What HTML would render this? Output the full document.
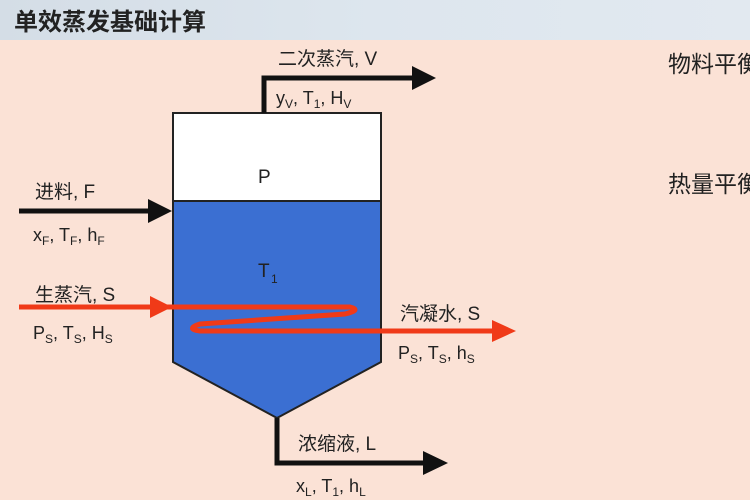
<!DOCTYPE html>
<html><head><meta charset="utf-8"><style>
html,body{margin:0;padding:0;width:750px;height:500px;overflow:hidden;background:#fbe2d6}
svg{display:block}
text{font-family:"Liberation Sans","Noto Sans CJK SC",sans-serif;fill:#222}
</style></head><body>
<svg width="750" height="500" viewBox="0 0 750 500">
<defs>
<linearGradient id="hd" x1="0" y1="0" x2="1" y2="0">
<stop offset="0" stop-color="#d4dde6"/><stop offset="0.5" stop-color="#dde6ee"/><stop offset="1" stop-color="#e2e9f0"/>
</linearGradient>
</defs>
<rect x="0" y="0" width="750" height="40" fill="url(#hd)"/>
<rect x="0" y="40" width="750" height="460" fill="#fbe2d6"/>
<text x="14" y="30" font-size="24" font-weight="bold" fill="#333">单效蒸发基础计算</text>
<text x="668" y="72" font-size="23" fill="#444">物料平衡</text>
<text x="668" y="192" font-size="23" fill="#444">热量平衡</text>

<rect x="173" y="113" width="208" height="88" fill="#fff" stroke="#222" stroke-width="2"/>
<polygon points="173,201 381,201 381,362 277,418 173,362" fill="#3b6fd2" stroke="#222" stroke-width="2"/>
<text x="258" y="183" font-size="19">P</text>
<text x="258" y="277" font-size="19">T</text><text x="271" y="283" font-size="12">1</text>

<polyline points="264,113 264,78 415,78" fill="none" stroke="#111" stroke-width="5"/>
<polygon points="412,66 436,78 412,90" fill="#111"/>
<text x="278" y="65" font-size="19" fill="#555">二次蒸汽, V</text>
<text x="276" y="104" font-size="18">y<tspan font-size="12" dy="4">V</tspan><tspan dy="-4">, T</tspan><tspan font-size="12" dy="4">1</tspan><tspan dy="-4">, H</tspan><tspan font-size="12" dy="4">V</tspan></text>

<line x1="19" y1="211" x2="150" y2="211" stroke="#111" stroke-width="5"/>
<polygon points="148,199 172,211 148,223" fill="#111"/>
<text x="35" y="198" font-size="19" fill="#555">进料, F</text>
<text x="33" y="241" font-size="18">x<tspan font-size="12" dy="4">F</tspan><tspan dy="-4">, T</tspan><tspan font-size="12" dy="4">F</tspan><tspan dy="-4">, h</tspan><tspan font-size="12" dy="4">F</tspan></text>

<text x="35" y="301" font-size="19" fill="#555">生蒸汽, S</text>
<text x="33" y="339" font-size="18">P<tspan font-size="12" dy="4">S</tspan><tspan dy="-4">, T</tspan><tspan font-size="12" dy="4">S</tspan><tspan dy="-4">, H</tspan><tspan font-size="12" dy="4">S</tspan></text>
<path d="M19,307 L350,307 Q362,310 345,314 L200,324 Q185,329 200,331 L495,331" fill="none" stroke="#f03a18" stroke-width="5"/>
<polygon points="150,296 172,307 150,318" fill="#f03a18"/>
<polygon points="492,320 516,331 492,342" fill="#f03a18"/>
<text x="400" y="320" font-size="19" fill="#555">汽凝水, S</text>
<text x="398" y="359" font-size="18">P<tspan font-size="12" dy="4">S</tspan><tspan dy="-4">, T</tspan><tspan font-size="12" dy="4">S</tspan><tspan dy="-4">, h</tspan><tspan font-size="12" dy="4">S</tspan></text>

<polyline points="277,418 277,463 425,463" fill="none" stroke="#111" stroke-width="5"/>
<polygon points="423,451 448,463 423,475" fill="#111"/>
<text x="298" y="450" font-size="19" fill="#555">浓缩液, L</text>
<text x="296" y="492" font-size="18">x<tspan font-size="12" dy="4">L</tspan><tspan dy="-4">, T</tspan><tspan font-size="12" dy="4">1</tspan><tspan dy="-4">, h</tspan><tspan font-size="12" dy="4">L</tspan></text>
</svg>
</body></html>
